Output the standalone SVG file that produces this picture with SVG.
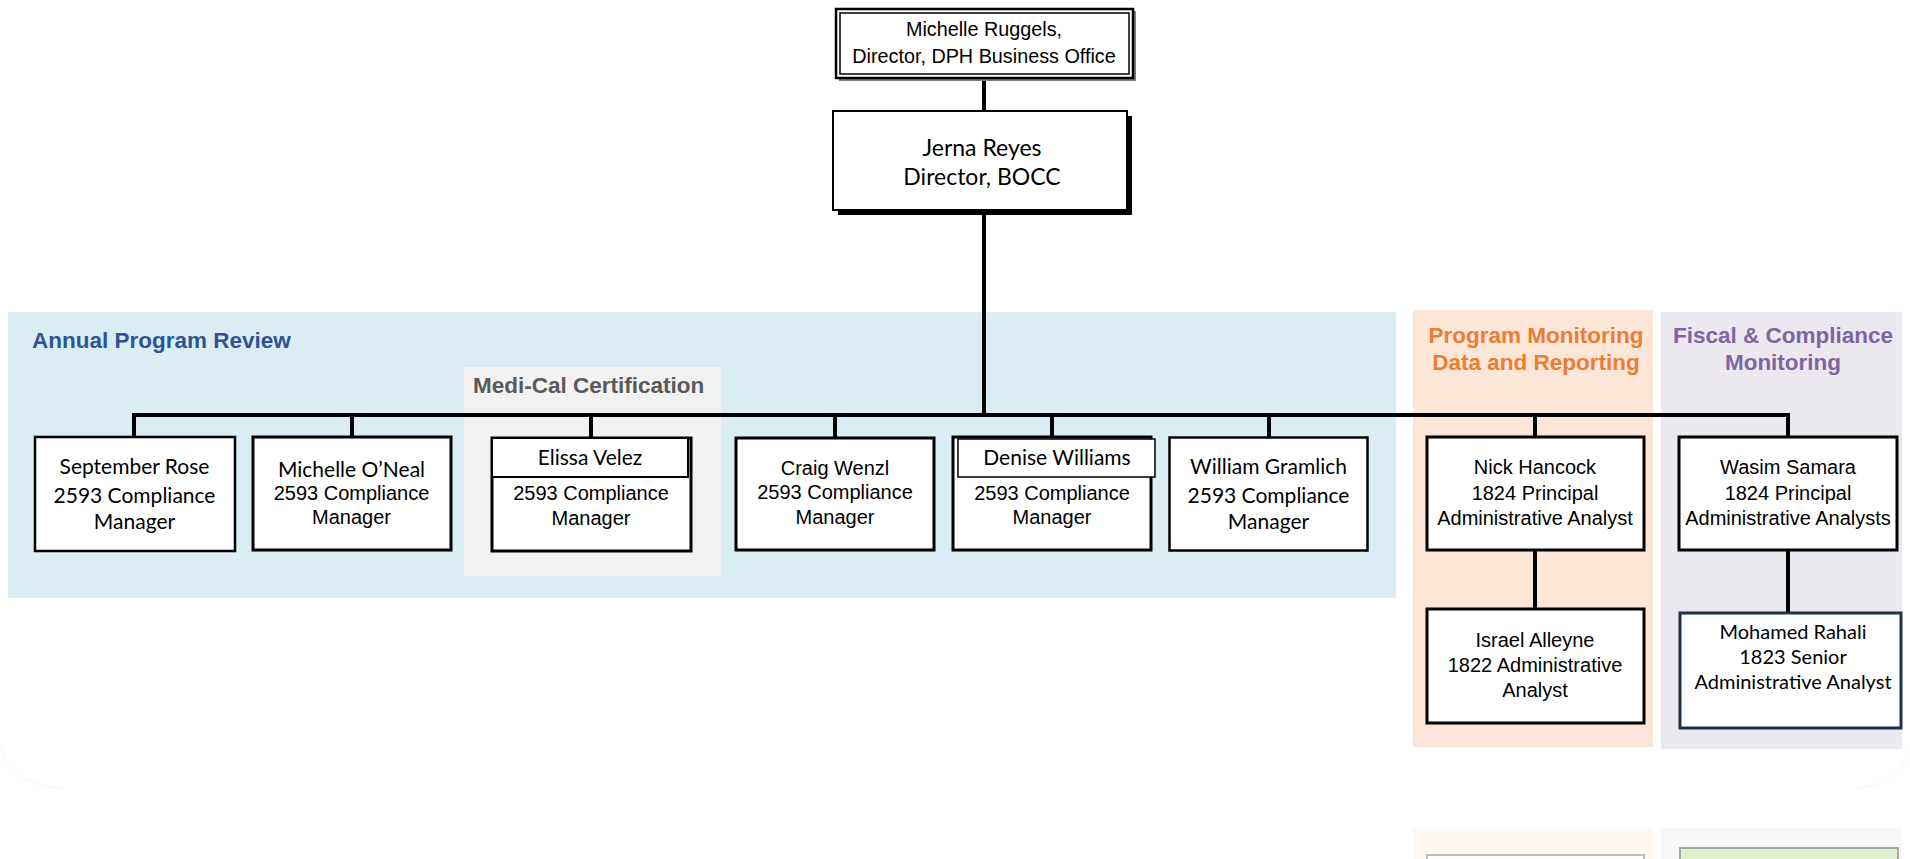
<svg xmlns="http://www.w3.org/2000/svg" width="1910" height="859" viewBox="0 0 1910 859">
<style>
.box{fill:#fff;stroke:#000;stroke-width:3}
.ar{font-family:"Liberation Sans",Arial,sans-serif;font-size:20px;fill:#000;text-anchor:middle}
.ca{font-family:Lato,"Open Sans",sans-serif;font-size:21px;fill:#000;text-anchor:middle}
.ttl{font-family:"Liberation Sans",Arial,sans-serif;font-weight:bold;font-size:22.5px}
.con{stroke:#000;stroke-width:4;fill:none}
</style>
<rect width="1910" height="859" fill="#fff"/>
<g id="bands">
<rect x="8" y="312" width="1388" height="286" fill="#DAEDF3"/>
<rect x="464" y="367" width="257" height="209" fill="#F2F2F2"/>
<rect x="1413" y="310" width="240" height="437" fill="#FBE6D8"/>
<rect x="1661" y="312" width="241" height="437" fill="#EBE8F0"/>
<rect x="1413" y="829" width="240" height="40" fill="#FEF7F2"/>
<rect x="1427" y="855" width="217" height="20" fill="#fff" stroke="#BDBDBD" stroke-width="2"/>
<rect x="1661" y="828" width="241" height="40" fill="#F8F8FA"/>
<rect x="1680" y="848" width="218" height="30" fill="#DEF0CD" stroke="#A8A8A8" stroke-width="2"/>
<path d="M1 745 Q10 785 62 788" fill="none" stroke="#F6F6F6" stroke-width="1"/>
<path d="M1909 750 Q1900 785 1856 788" fill="none" stroke="#F6F6F6" stroke-width="1"/>
<text class="ttl" x="32" y="348" fill="#2F5496">Annual Program Review</text>
<text class="ttl" x="473" y="393" fill="#595959">Medi-Cal Certification</text>
<text class="ttl" x="1536" y="343" fill="#ED7D31" text-anchor="middle">Program Monitoring</text>
<text class="ttl" x="1536" y="370" fill="#ED7D31" text-anchor="middle">Data and Reporting</text>
<text class="ttl" x="1783" y="343" fill="#8064A2" text-anchor="middle">Fiscal &amp; Compliance</text>
<text class="ttl" x="1783" y="370" fill="#8064A2" text-anchor="middle">Monitoring</text>
</g>
<g id="connectors">
<line class="con" x1="984" y1="78" x2="984" y2="111"/>
<line class="con" x1="984" y1="213" x2="984" y2="417"/>
<line class="con" x1="132" y1="415" x2="1790" y2="415"/>
<line class="con" x1="134" y1="413" x2="134" y2="437"/>
<line class="con" x1="352" y1="413" x2="352" y2="437"/>
<line class="con" x1="591" y1="413" x2="591" y2="437"/>
<line class="con" x1="835" y1="413" x2="835" y2="437"/>
<line class="con" x1="1052" y1="413" x2="1052" y2="437"/>
<line class="con" x1="1269" y1="413" x2="1269" y2="437"/>
<line class="con" x1="1535" y1="413" x2="1535" y2="437"/>
<line class="con" x1="1788" y1="413" x2="1788" y2="437"/>
<line class="con" x1="1535" y1="550" x2="1535" y2="609"/>
<line class="con" x1="1788" y1="550" x2="1788" y2="612"/>
</g>
<g id="ruggels">
<rect x="839" y="11" width="297" height="70" fill="#7F7F7F"/>
<rect x="836" y="9" width="297" height="69" fill="#fff" stroke="#000" stroke-width="2.5"/>
<rect x="840" y="13" width="289" height="61" fill="none" stroke="#000" stroke-width="1.5"/>
<text class="ar" x="984" y="36" style="font-size:19.8px">Michelle Ruggels,</text>
<text class="ar" x="984" y="63" style="font-size:19.8px">Director, DPH Business Office</text>
</g>
<g id="reyes">
<rect x="838" y="116" width="294" height="99" fill="#000"/>
<rect x="833" y="111" width="294" height="99" fill="#fff" stroke="#000" stroke-width="2"/>
<text class="ca" x="982" y="156" style="font-size:23px">Jerna Reyes</text>
<text class="ca" x="982" y="185" style="font-size:23px">Director, BOCC</text>
</g>
<g id="rose">
<rect class="box" x="35" y="437" width="200" height="114" style="stroke-width:2.5"/>
<text class="ca" x="134.5" y="474">September Rose</text>
<text class="ca" x="134.5" y="503">2593 Compliance</text>
<text class="ca" x="134.5" y="529">Manager</text>
</g>
<g id="oneal">
<rect class="box" x="253" y="437" width="198" height="113"/>
<text class="ca" x="351.5" y="477">Michelle O’Neal</text>
<text class="ar" x="351.5" y="500">2593 Compliance</text>
<text class="ar" x="351.5" y="524">Manager</text>
</g>
<g id="velez">
<rect class="box" x="492" y="438" width="199" height="113"/>
<rect x="492" y="438" width="196" height="39" fill="#fff" stroke="#000" stroke-width="2"/>
<text class="ca" x="590" y="465">Elissa Velez</text>
<text class="ar" x="591" y="500">2593 Compliance</text>
<text class="ar" x="591" y="525">Manager</text>
</g>
<g id="wenzl">
<rect class="box" x="736" y="438" width="198" height="112"/>
<text class="ar" x="835" y="475">Craig Wenzl</text>
<text class="ar" x="835" y="499">2593 Compliance</text>
<text class="ar" x="835" y="524">Manager</text>
</g>
<g id="williams">
<rect class="box" x="953" y="437" width="198" height="113"/>
<rect x="958" y="439" width="197" height="38" fill="#fff" stroke="#000" stroke-width="1.5"/>
<text class="ca" x="1057" y="465">Denise Williams</text>
<text class="ar" x="1052" y="500">2593 Compliance</text>
<text class="ar" x="1052" y="524">Manager</text>
</g>
<g id="gramlich">
<rect class="box" x="1169.5" y="437.5" width="198" height="113" style="stroke-width:2.5"/>
<text class="ca" x="1268.5" y="474">William Gramlich</text>
<text class="ca" x="1268.5" y="503">2593 Compliance</text>
<text class="ca" x="1268.5" y="529">Manager</text>
</g>
<g id="hancock">
<rect class="box" x="1427" y="437" width="217" height="113"/>
<text class="ar" x="1535" y="474">Nick Hancock</text>
<text class="ar" x="1535" y="500">1824 Principal</text>
<text class="ar" x="1535" y="525">Administrative Analyst</text>
</g>
<g id="samara">
<rect class="box" x="1679" y="437" width="218" height="113"/>
<text class="ar" x="1788" y="474">Wasim Samara</text>
<text class="ar" x="1788" y="500">1824 Principal</text>
<text class="ar" x="1788" y="525">Administrative Analysts</text>
</g>
<g id="alleyne">
<rect class="box" x="1427" y="609" width="217" height="114"/>
<text class="ar" x="1535" y="647">Israel Alleyne</text>
<text class="ar" x="1535" y="672">1822 Administrative</text>
<text class="ar" x="1535" y="697">Analyst</text>
</g>
<g id="rahali">
<rect x="1680" y="613" width="221" height="115" fill="#fff" stroke="#1F3047" stroke-width="3"/>
<text class="ca" x="1793" y="639" style="font-size:20px">Mohamed Rahali</text>
<text class="ca" x="1793" y="664" style="font-size:20px">1823 Senior</text>
<text class="ca" x="1793" y="689" style="font-size:20px">Administrative Analyst</text>
</g>
</svg>
